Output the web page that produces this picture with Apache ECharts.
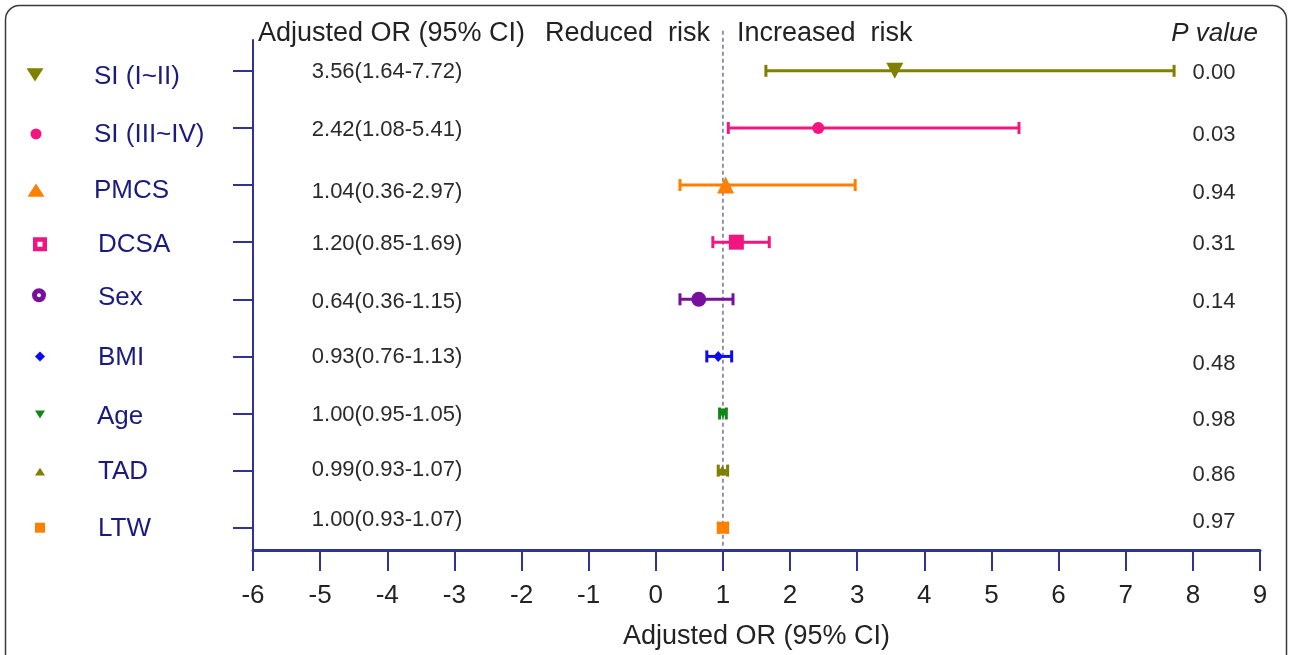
<!DOCTYPE html>
<html><head><meta charset="utf-8">
<script src="https://cdn.jsdelivr.net/npm/echarts@6/dist/echarts.min.js"></script>
<style>html,body{margin:0;padding:0;background:#fff}#c{width:1290px;height:655px}</style>
</head><body><div id="c"></div>
<script>
// ---- data ----
const categories = ['SI (I~II)', 'SI (III~IV)', 'PMCS', 'DCSA', 'Sex', 'BMI', 'Age', 'TAD', 'LTW'];
const orValues = [3.56, 2.42, 1.04, 1.20, 0.64, 0.93, 1.00, 0.99, 1.00];
const ciLower  = [1.64, 1.08, 0.36, 0.85, 0.36, 0.76, 0.95, 0.93, 0.93];
const ciUpper  = [7.72, 5.41, 2.97, 1.69, 1.15, 1.13, 1.05, 1.07, 1.07];
const pValues  = ['0.00', '0.03', '0.94', '0.31', '0.14', '0.48', '0.98', '0.86', '0.97'];
const xMin = -6, xMax = 9, xInterval = 1;
const refValue = 1;

// ---- styles ----
const FONT = '"Liberation Sans", Arial, sans-serif';
const axisColor = '#2e348f';
const colors = ['#7f7f00', '#f5157f', '#ff7f00', '#f0157f', '#78109e', '#0a0af5', '#13861a', '#7f7f00', '#ff7f00'];
const markerSymbols = ['triangle', 'circle', 'triangle', 'rect', 'circle', 'diamond', 'triangle', 'triangle', 'rect'];
const markerRotate = [180, 0, 0, 0, 0, 0, 180, 0, 0];
const markerSizes = [[17, 16], 12, [17, 17], 15, 15, [10, 11], [10, 10], [11, 10], 12];
const legendShapes = ['triDown', 'dot', 'triUp', 'ringSquare', 'ringCircle', 'diamond', 'triDown', 'triUp', 'square'];
const legendSize = [17, 11, 17, 14, 14, 10, 10, 10, 10];
const legendX = [35, 36, 36, 40, 39, 40, 40, 40, 40];
const labelX = [94, 94, 94, 98, 98, 98, 97, 98, 98];
const labelDy = [6, 7, 6, 3, -1, 1, 3, 1, 1];
const markerDy = [4, 6, 5, 2, -4, 0, 1, 1, 0];
const orDy = [1, 2, 7, 2, 3, 1, 1, -1, -8];
const pDy = [2, 7, 8, 2, 3, 8, 6, 4, -6];
const yTop = 0.3, yMinV = 0.46, yMaxV = 9.39;

const rows = categories.map((c, i) => i + 1);

function legendShape(kind, cx, cy, s, color) {
  const h = s * 0.78;
  switch (kind) {
    case 'triDown':
      return { type: 'polygon', shape: { points: [[cx - s / 2, cy - h / 2], [cx + s / 2, cy - h / 2], [cx, cy + h / 2]] }, style: { fill: color } };
    case 'triUp':
      return { type: 'polygon', shape: { points: [[cx - s / 2, cy + h / 2], [cx + s / 2, cy + h / 2], [cx, cy - h / 2]] }, style: { fill: color } };
    case 'dot':
      return { type: 'circle', shape: { cx, cy, r: s / 2 }, style: { fill: color } };
    case 'ringSquare': {
      const lw = s * 0.32;
      return { type: 'rect', shape: { x: cx - (s - lw) / 2, y: cy - (s - lw) / 2, width: s - lw, height: s - lw }, style: { fill: '#fff', stroke: color, lineWidth: lw } };
    }
    case 'ringCircle': {
      const lw = s * 0.36;
      return { type: 'circle', shape: { cx, cy, r: (s - lw) / 2 }, style: { fill: '#fff', stroke: color, lineWidth: lw } };
    }
    case 'diamond':
      return { type: 'polygon', shape: { points: [[cx, cy - s / 2], [cx + s / 2, cy], [cx, cy + s / 2], [cx - s / 2, cy]] }, style: { fill: color } };
    default:
      return { type: 'rect', shape: { x: cx - s / 2, y: cy - s / 2, width: s, height: s }, style: { fill: color } };
  }
}

const chart = echarts.init(document.getElementById('c'), null, { renderer: 'canvas' });

const option = {
  animation: false,
  backgroundColor: '#fff',
  textStyle: { fontFamily: FONT },
  grid: { left: 253, right: 30, top: 40, bottom: 105, containLabel: false },
  xAxis: {
    type: 'value', min: xMin, max: xMax, interval: xInterval,
    axisLine: { show: true, onZero: false, lineStyle: { color: axisColor, width: 3 } },
    axisTick: { show: true, length: 21, lineStyle: { color: axisColor, width: 2 } },
    axisLabel: { margin: 33, fontSize: 26, color: '#222', fontFamily: FONT },
    splitLine: { show: false },
    name: 'Adjusted OR (95% CI)', nameLocation: 'middle', nameGap: 73,
    nameTextStyle: { fontSize: 27, color: '#222', fontFamily: FONT }
  },
  yAxis: {
    type: 'value', inverse: true, min: yMinV, max: yMaxV,
    axisLine: { show: true, onZero: false, lineStyle: { color: axisColor, width: 2 } },
    axisTick: { show: true, customValues: rows, length: 20, lineStyle: { color: axisColor, width: 2 } },
    axisLabel: { show: false },
    splitLine: { show: false }
  },
  graphic: [
    { type: 'rect', silent: true, z: -10, shape: { x: 5.5, y: 5.5, width: 1281, height: 720, r: 14 }, style: { fill: 'none', stroke: '#3a3a3a', lineWidth: 1.5 } },
    { type: 'text', silent: true, x: 258, y: 34, style: { text: 'Adjusted OR (95% CI)', font: '27px ' + FONT, fill: '#222', verticalAlign: 'middle' } },
    { type: 'text', silent: true, x: 545, y: 34, style: { text: 'Reduced  risk', font: '27px ' + FONT, fill: '#222', verticalAlign: 'middle' } },
    { type: 'text', silent: true, x: 737, y: 34, style: { text: 'Increased  risk', font: '27px ' + FONT, fill: '#222', verticalAlign: 'middle' } },
    { type: 'text', silent: true, x: 1258, y: 34, style: { text: 'P value', font: 'italic 26px ' + FONT, fill: '#222', align: 'right', verticalAlign: 'middle' } }
  ],
  series: [
    {
      name: 'ref', type: 'custom', clip: false, silent: true, z: 2,
      encode: { x: 0, y: 1 },
      data: [[refValue, yMaxV]],
      renderItem: (params, api) => {
        const a = api.coord([api.value(0), yTop]);
        const b = api.coord([api.value(0), api.value(1)]);
        return { type: 'line', shape: { x1: a[0], y1: a[1], x2: b[0], y2: b[1] }, style: { stroke: '#5d5d85', lineWidth: 1.3, lineDash: [4, 3] } };
      }
    },
    {
      name: 'CI', type: 'custom', clip: false, silent: true, z: 3,
      encode: { x: [0, 1], y: 2 },
      data: categories.map((c, i) => [ciLower[i], ciUpper[i], rows[i], i]),
      renderItem: (params, api) => {
        const i = api.value(3);
        const a = api.coord([api.value(0), api.value(2)]);
        const b = api.coord([api.value(1), api.value(2)]);
        const cap = 6;
        const st = { stroke: colors[i], lineWidth: 3 };
        return {
          type: 'group', children: [
            { type: 'line', shape: { x1: a[0], y1: a[1], x2: b[0], y2: b[1] }, style: st },
            { type: 'line', shape: { x1: a[0], y1: a[1] - cap, x2: a[0], y2: a[1] + cap }, style: st },
            { type: 'line', shape: { x1: b[0], y1: b[1] - cap, x2: b[0], y2: b[1] + cap }, style: st }
          ]
        };
      }
    },
    {
      name: 'OR', type: 'scatter', z: 4, silent: true,
      data: orValues.map((v, i) => ({
        value: [v, rows[i]], symbol: markerSymbols[i], symbolSize: markerSizes[i],
        symbolRotate: markerRotate[i], itemStyle: { color: colors[i], opacity: 1 }
      }))
    },
    {
      name: 'labels', type: 'custom', clip: false, silent: true, z: 5,
      encode: { x: 0, y: 1 },
      data: categories.map((c, i) => [xMin, rows[i], i]),
      renderItem: (params, api) => {
        const i = api.value(2);
        const p = api.coord([xMin, api.value(1)]);
        const q = api.coord([xMax, api.value(1)]);
        const orText = orValues[i].toFixed(2) + '(' + ciLower[i].toFixed(2) + '-' + ciUpper[i].toFixed(2) + ')';
        return {
          type: 'group', children: [
            legendShape(legendShapes[i], legendX[i], p[1] + markerDy[i], legendSize[i], colors[i]),
            { type: 'text', style: { text: categories[i], x: labelX[i], y: p[1] + labelDy[i], fill: '#1b1b7d', font: '26px ' + FONT, verticalAlign: 'middle' } },
            { type: 'text', style: { text: orText, x: p[0] + 134, y: p[1] + orDy[i], fill: '#2a2a2a', font: '22px ' + FONT, align: 'center', verticalAlign: 'middle' } },
            { type: 'text', style: { text: pValues[i], x: q[0] - 46, y: p[1] + pDy[i], fill: '#2a2a2a', font: '22px ' + FONT, align: 'center', verticalAlign: 'middle' } }
          ]
        };
      }
    }
  ]
};
chart.setOption(option);
</script>
</body></html>
